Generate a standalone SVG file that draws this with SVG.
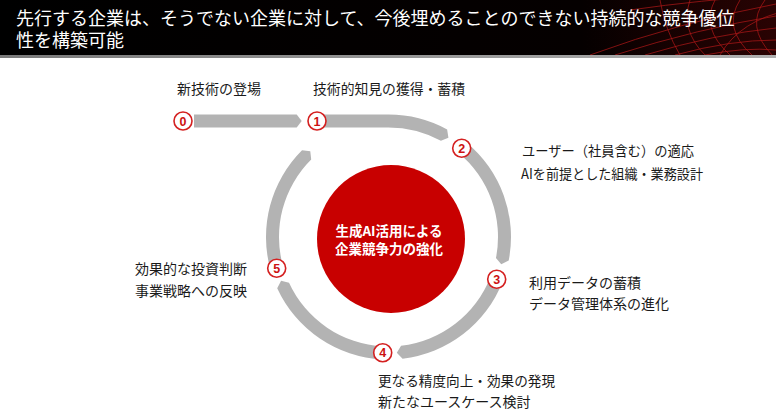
<svg xmlns="http://www.w3.org/2000/svg" width="776" height="410" viewBox="0 0 776 410">
<defs>
<style>
.title{font-family:"Noto Sans CJK JP","Noto Sans",sans-serif;font-size:18px;fill:#ffffff;}
.lbl{font-family:"Noto Sans CJK JP","Noto Sans",sans-serif;font-size:14px;fill:#1a1a1a;}
.ctr{font-family:"Noto Sans CJK JP","Noto Sans",sans-serif;font-size:13.5px;font-weight:bold;fill:#ffffff;text-anchor:middle;}
.mk{fill:#ffffff;stroke:#d42020;stroke-width:1.6;}
.num{font-family:"Liberation Sans",Arial,sans-serif;font-size:12.5px;font-weight:bold;fill:#cc1111;text-anchor:middle;}
.band{fill:#b3b3b3;}
.wire{fill:none;stroke:#b01818;stroke-width:0.9;opacity:0.8;}
</style>
<linearGradient id="hdr" x1="0" y1="0" x2="1" y2="0">
<stop offset="0" stop-color="#000000"/>
<stop offset="0.75" stop-color="#050000"/>
<stop offset="1" stop-color="#2a0303"/>
</linearGradient>
<linearGradient id="rule" x1="0" y1="0" x2="1" y2="0">
<stop offset="0" stop-color="#7a7a7a"/>
<stop offset="1" stop-color="#b0b0b0"/>
</linearGradient>
<clipPath id="hclip"><rect x="0" y="0" width="776" height="55"/></clipPath>
</defs>

<g id="header">
<rect x="0" y="0" width="776" height="55" fill="url(#hdr)"/>
<g clip-path="url(#hclip)">
<path class="wire" d="M590,55 Q680,22 776,4"/>
<path class="wire" d="M615,55 Q700,28 776,16"/>
<path class="wire" d="M645,55 Q715,34 776,28"/>
<path class="wire" d="M675,55 Q730,40 776,40"/>
<path class="wire" d="M705,55 Q745,47 776,50"/>
<path class="wire" d="M690,0 Q680,30 705,55"/>
<path class="wire" d="M715,0 Q700,28 730,55"/>
<path class="wire" d="M740,0 Q722,28 752,55"/>
<path class="wire" d="M765,0 Q745,26 772,55"/>
<path class="wire" d="M660,0 Q665,30 680,55"/>
<path class="wire" d="M630,10 Q700,0 776,-5"/>
<path class="wire" d="M720,55 Q740,20 790,10"/>
</g>
<rect x="0" y="55" width="776" height="3" fill="url(#rule)"/>
<text class="title" x="16" y="25">先行する企業は、そうでない企業に対して、今後埋めることのできない持続的な競争優位</text>
<text class="title" x="16" y="46.5">性を構築可能</text>
</g>

<g id="connectors">
<polygon class="band" points="194,114.5 296.7,114.5 301.7,121 296.7,127.5 194,127.5"/>
<path class="band" d="M317,114.5 L388.5,114.5 A122.5,122.5 0 0 1 447.14,129.44 L448.42,137.67 L440.92,140.86 A109.5,109.5 0 0 0 388.5,127.5 L317,127.5 Z"/>
<path class="band" d="M466.42,142.48 A122.5,122.5 0 0 1 508.71,260.58 L501.25,264.27 L495.95,258.08 A109.5,109.5 0 0 0 458.15,152.51 Z"/>
<path class="band" d="M502.56,281.70 A122.5,122.5 0 0 1 402.58,358.69 L396.79,352.70 L401.08,345.78 A109.5,109.5 0 0 0 490.45,276.96 Z"/>
<path class="band" d="M382.30,359.34 A122.5,122.5 0 0 1 277.21,288.19 L281.10,280.83 L289.02,282.76 A109.5,109.5 0 0 0 382.96,346.36 Z"/>
<path class="band" d="M270.51,269.94 A122.5,122.5 0 0 1 302.03,150.23 L310.28,151.33 L311.20,159.44 A109.5,109.5 0 0 0 283.03,266.44 Z"/>
</g>

<g id="center">
<circle cx="391" cy="239" r="74" fill="#c80000"/>
<text class="ctr" x="389" y="235.5">生成AI活用による</text>
<text class="ctr" x="389" y="253.5">企業競争力の強化</text>
</g>

<g id="step0">
<circle class="mk" cx="183" cy="121" r="9"/>
<text class="num" x="183" y="125.5">0</text>
<text class="lbl" x="177" y="94">新技術の登場</text>
</g>
<g id="step1">
<circle class="mk" cx="317" cy="121" r="9"/>
<text class="num" x="317" y="125.5">1</text>
<text class="lbl" x="313" y="94" textLength="152" lengthAdjust="spacingAndGlyphs">技術的知見の獲得・蓄積</text>
</g>
<g id="step2">
<circle class="mk" cx="461.7" cy="148.3" r="9"/>
<text class="num" x="461.7" y="152.8">2</text>
<text class="lbl" x="522" y="156" textLength="172" lengthAdjust="spacingAndGlyphs">ユーザー（社員含む）の適応</text>
<text class="lbl" x="521" y="179" textLength="182" lengthAdjust="spacingAndGlyphs">AIを前提とした組織・業務設計</text>
</g>
<g id="step3">
<circle class="mk" cx="496.7" cy="279.3" r="9"/>
<text class="num" x="496.7" y="283.8">3</text>
<text class="lbl" x="529" y="288">利用データの蓄積</text>
<text class="lbl" x="529" y="309">データ管理体系の進化</text>
</g>
<g id="step4">
<circle class="mk" cx="382.7" cy="352.7" r="9"/>
<text class="num" x="382.7" y="357.2">4</text>
<text class="lbl" x="378" y="386" textLength="177" lengthAdjust="spacingAndGlyphs">更なる精度向上・効果の発現</text>
<text class="lbl" x="378" y="407">新たなユースケース検討</text>
</g>
<g id="step5">
<circle class="mk" cx="276.7" cy="268.3" r="9"/>
<text class="num" x="276.7" y="272.8">5</text>
<text class="lbl" x="135" y="274">効果的な投資判断</text>
<text class="lbl" x="135" y="296">事業戦略への反映</text>
</g>
</svg>
